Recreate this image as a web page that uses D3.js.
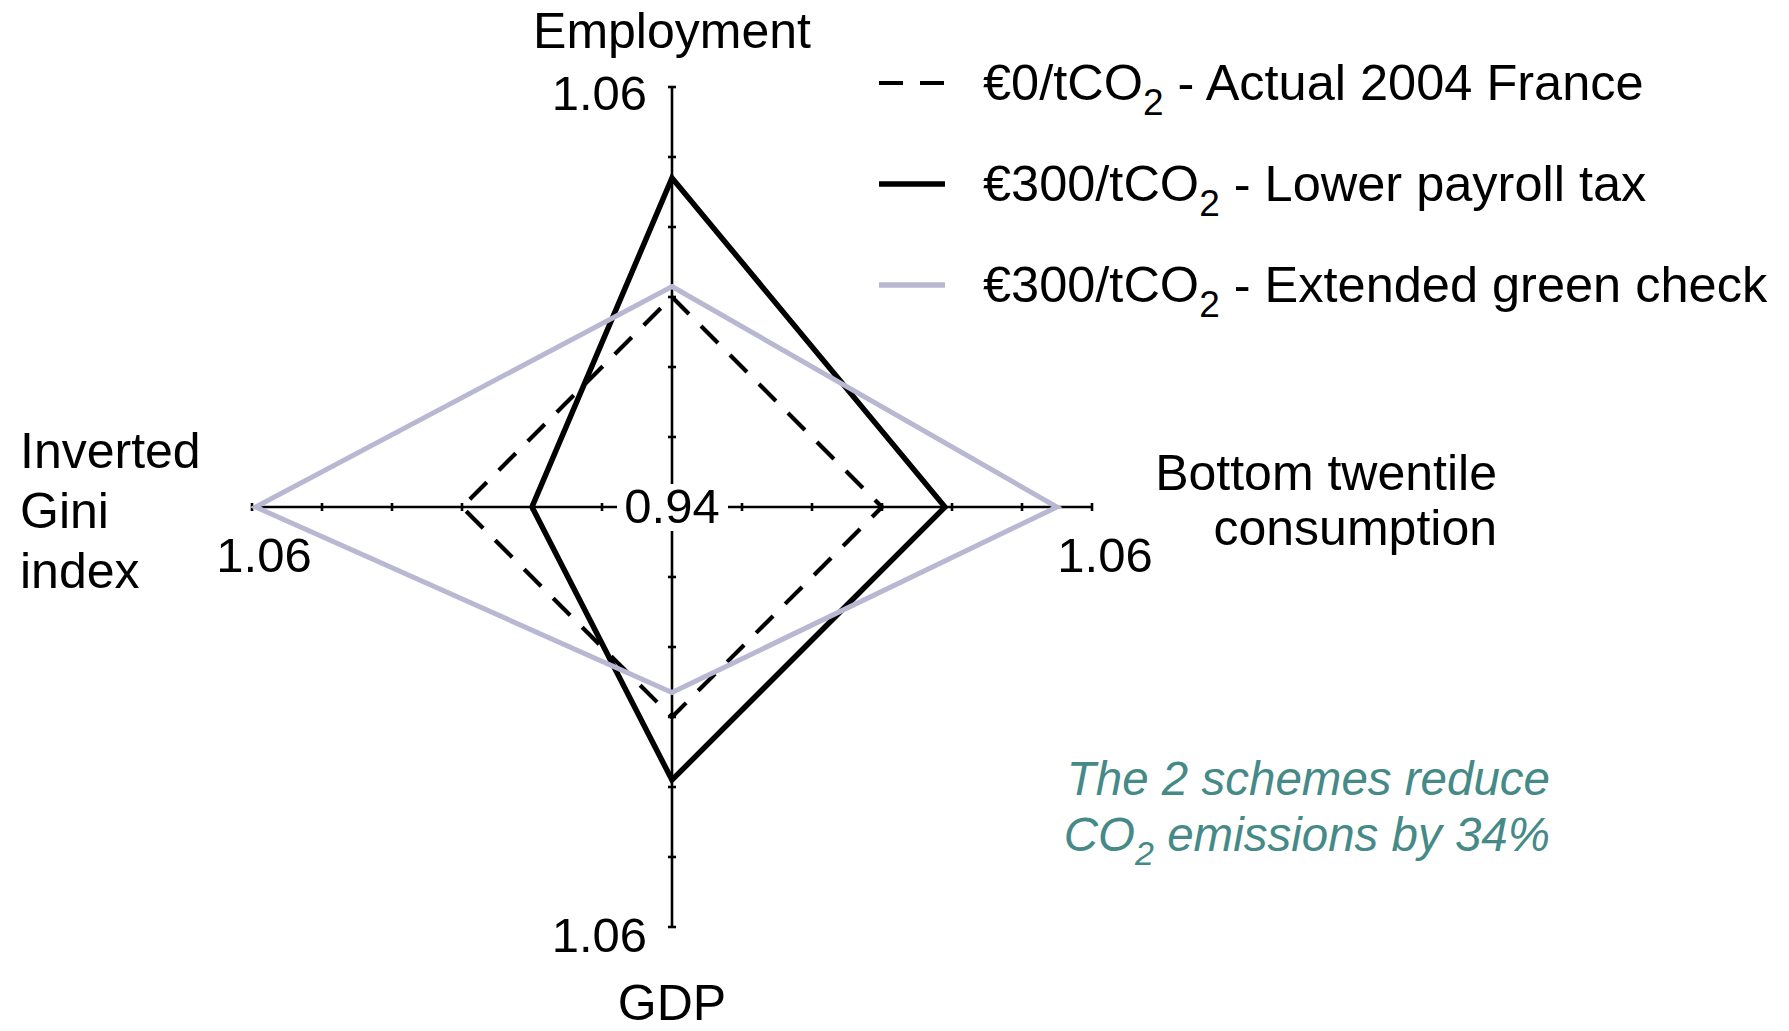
<!DOCTYPE html>
<html>
<head>
<meta charset="utf-8">
<script src="https://cdn.jsdelivr.net/npm/d3@7"></script>
<style>
  html, body { margin: 0; padding: 0; background: #fff; }
  svg { display: block; }
  text { font-family: "Liberation Sans", Arial, sans-serif; fill: #000; }
</style>
</head>
<body>
<svg id="chart" width="1789" height="1031"></svg>
<script>
// ---- data ----
const categories = ["Employment", "Bottom twentile consumption", "GDP", "Inverted Gini index"];
const actual2004 = [1.000, 1.000, 1.000, 1.000];
const lowerPayroll = [1.034, 1.018, 1.018, 0.980];
const greenCheck = [1.003, 1.050, 0.993, 1.059];
const tickValues = [0.94, 0.96, 0.98, 1.00, 1.02, 1.04, 1.06];
const centerLabel = "0.94";
const endLabel = "1.06";
const seriesNames = ["\u20AC0/tCO", "\u20AC300/tCO", "\u20AC300/tCO"];
const seriesSuffix = [" - Actual 2004 France", " - Lower payroll tax", " - Extended green check"];
const noteLines = ["The 2 schemes reduce", "CO|2| emissions by 34%"];

// ---- layout ----
const svg = d3.select("#chart");
const cx = 672, cy = 507, R = 420;
const r = d3.scaleLinear().domain([0.94, 1.06]).range([0, R]);
const angles = categories.map((d, i) => i * Math.PI / 2);
const pt = (v, i) => [cx + r(v) * Math.sin(angles[i]), cy - r(v) * Math.cos(angles[i])];

// axes
const axes = svg.append("g");
categories.forEach((c, i) => {
  const [x2, y2] = pt(1.06, i);
  axes.append("line").attr("x1", cx).attr("y1", cy).attr("x2", x2).attr("y2", y2)
    .attr("stroke", "#000").attr("stroke-width", 2.6);
  tickValues.slice(1).forEach(tv => {
    const [tx, ty] = pt(tv, i);
    const h = 4;
    const dx = Math.cos(angles[i]) * h, dy = Math.sin(angles[i]) * h;
    axes.append("line").attr("x1", tx - dx).attr("y1", ty - dy).attr("x2", tx + dx).attr("y2", ty + dy)
      .attr("stroke", "#000").attr("stroke-width", 2.6);
  });
});

// series
const lineGen = d3.line().curve(d3.curveLinearClosed);
function poly(vals) { return lineGen(vals.map((v, i) => pt(v, i))); }

svg.append("path").attr("d", poly(actual2004)).attr("fill", "none")
  .attr("stroke", "#000").attr("stroke-width", 4.2).attr("stroke-dasharray", "24,17")
  .attr("stroke-linejoin", "miter");
svg.append("path").attr("d", poly(lowerPayroll)).attr("fill", "none")
  .attr("stroke", "#000").attr("stroke-width", 5.5).attr("stroke-linejoin", "miter");
svg.append("path").attr("d", poly(greenCheck)).attr("fill", "none")
  .attr("stroke", "#b8b8d2").attr("stroke-width", 5).attr("stroke-linejoin", "miter");

// center label with white background
svg.append("rect").attr("x", 617).attr("y", 484).attr("width", 111).attr("height", 47).attr("fill", "#fff");
svg.append("text").attr("x", cx).attr("y", cy + 16).attr("text-anchor", "middle")
  .attr("font-size", 49).text(centerLabel);

// end labels
const endPos = [
  { x: 647, y: 110, a: "end" },
  { x: 1105, y: 572, a: "middle" },
  { x: 647, y: 952, a: "end" },
  { x: 264, y: 572, a: "middle" }
];
endPos.forEach(p => {
  svg.append("text").attr("x", p.x).attr("y", p.y).attr("text-anchor", p.a)
    .attr("font-size", 49).text(endLabel);
});

// category labels
const fs = 50;
svg.append("text").attr("x", cx).attr("y", 48).attr("text-anchor", "middle").attr("font-size", fs).text(categories[0]);
svg.append("text").attr("x", cx).attr("y", 1020).attr("text-anchor", "middle").attr("font-size", fs).text(categories[2]);
["Bottom twentile", "consumption"].forEach((t, k) => {
  svg.append("text").attr("x", 1497).attr("y", 490 + k * 55).attr("text-anchor", "end").attr("font-size", fs).text(t);
});
["Inverted", "Gini", "index"].forEach((t, k) => {
  svg.append("text").attr("x", 20).attr("y", 468 + k * 60).attr("text-anchor", "start").attr("font-size", fs).text(t);
});

// legend
const legY = [83, 184, 285];
const legStyles = [
  { stroke: "#000", w: 4.2, dash: "24,17" },
  { stroke: "#000", w: 5.5, dash: null },
  { stroke: "#b8b8d2", w: 5.5, dash: null }
];
legY.forEach((y, k) => {
  const s = legStyles[k];
  svg.append("line").attr("x1", 879).attr("x2", 945).attr("y1", y).attr("y2", y)
    .attr("stroke", s.stroke).attr("stroke-width", s.w).attr("stroke-dasharray", s.dash);
  const t = svg.append("text").attr("x", 983).attr("y", y + 17).attr("font-size", 50.5);
  t.append("tspan").text(seriesNames[k]);
  t.append("tspan").attr("font-size", 37).attr("dy", 15).text("2");
  t.append("tspan").attr("dy", -15).text(seriesSuffix[k]);
});

// note
const noteColor = "#468a87";
noteLines.forEach((line, k) => {
  const t = svg.append("text").attr("x", 1550).attr("y", 795 + k * 56).attr("text-anchor", "end")
    .attr("font-size", 47.5).attr("font-style", "italic").style("fill", noteColor);
  const parts = line.split("|");
  parts.forEach((p, j) => {
    if (j === 1) t.append("tspan").attr("font-size", 34).attr("dy", 14).text(p);
    else if (j === 2) t.append("tspan").attr("dy", -14).text(p);
    else t.append("tspan").text(p);
  });
});
</script>
</body>
</html>
